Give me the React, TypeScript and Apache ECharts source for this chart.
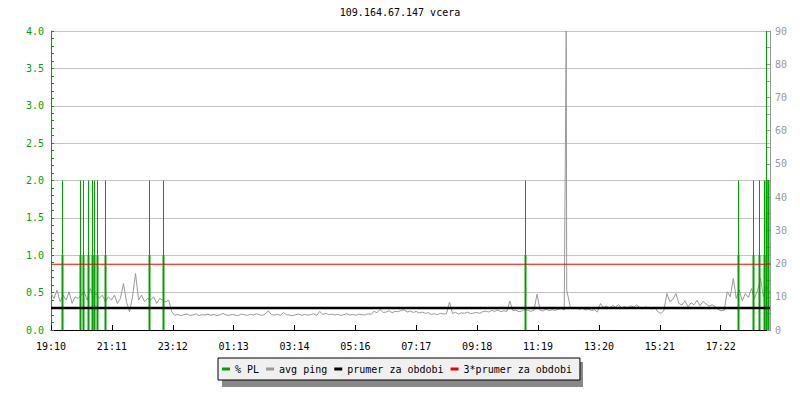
import React, { useEffect, useRef } from 'react';
import * as echarts from 'echarts';

const chartTitle = '109.164.67.147 vcera';
const xTickLabels = ['19:10', '21:11', '23:12', '01:13', '03:14', '05:16', '07:17', '09:18', '11:19', '13:20', '15:21', '17:22'];
const tickStepMin = 121;
const spanMin = 1429;
const sampleStepMin = 6;

// avg ping in ms (right axis), one sample every 6 minutes from 19:10
const pingMs = [
  11.0, 9.5, 12.0, 8.5, 10.5, 9.0, 11.5, 8.0, 10.0, 9.5,
  10.5, 11.5, 9.0, 12.5, 10.0, 11.0, 9.5, 10.5, 8.5, 10.0,
  9.0, 10.5, 8.0, 9.5, 14.0, 8.5, 5.5, 10.0, 17.0, 9.0,
  10.5, 8.5, 9.5, 9.0, 10.0, 8.0, 9.5, 9.0, 8.5, 9.0,
  5.5, 4.4, 4.7, 4.3, 4.6, 4.8, 4.4, 4.5, 4.9, 4.3,
  4.6, 4.5, 4.8, 4.4, 4.7, 4.3, 4.6, 5.0, 4.5, 4.4,
  4.7, 4.5, 4.3, 4.8, 4.6, 4.4, 4.7, 4.5, 4.9, 4.6,
  4.4, 4.8, 5.8, 4.6, 4.5, 4.7, 4.4, 5.3, 4.6, 4.5,
  4.3, 4.6, 4.8, 4.4, 4.7, 4.5, 4.6, 4.9, 4.4, 5.6,
  4.7, 5.0, 4.6, 4.8, 4.5, 4.7, 4.4, 4.6, 4.9, 4.5,
  4.7, 4.4, 4.8, 4.6, 4.5, 4.9, 4.7, 5.6, 5.2, 6.2, 5.3,
  5.4, 5.8, 5.2, 5.6, 5.5, 5.9, 6.1, 5.4, 5.7, 5.3,
  5.6, 5.1, 5.4, 5.0, 5.2, 4.7, 4.9, 4.6, 5.0, 4.8,
  4.9, 8.4, 5.0, 5.3, 4.8, 5.2, 5.0, 5.4, 4.9, 5.1,
  5.3, 5.0, 5.5, 5.7, 5.4, 5.9, 5.6, 6.0, 5.5, 5.8,
  5.6, 8.7, 5.8, 6.0, 5.5, 5.7, 6.2, 5.9, 5.6, 6.0,
  10.8, 6.0, 5.7, 6.3, 5.8, 6.1, 5.9, 6.2, 6.5, 6.0,
  12.0, 7.0, 6.4, 6.8, 6.2, 6.6, 6.0, 6.3, 5.9, 6.1,
  5.4, 8.0, 6.8, 7.2, 6.5, 7.4, 6.9, 7.6, 6.7, 7.1,
  6.6, 7.3, 6.9, 7.5, 6.8, 6.4, 7.0, 6.7, 6.3, 6.9,
  5.5, 5.0, 5.8, 11.0, 8.5, 9.2, 11.0, 8.0, 7.5, 8.8,
  7.0, 8.2, 7.6, 8.9, 7.3, 8.6, 7.8, 7.2, 7.6, 7.0,
  6.2, 5.8, 6.0, 11.5, 10.0, 15.5, 9.5, 12.0, 8.8, 11.0,
  9.8, 12.5, 9.5, 11.8, 15.5, 10.0, 13.5, 11.0,
];

// finer readings around the big latency spike (~12:00)
const spikeMinutes = [1022, 1024, 1025];
const spikeMs = [47, 90, 12];

// packet loss events (left axis, %)
const plMinutes = [21, 58, 63, 74, 81, 86, 92, 108, 195, 222, 942, 1365, 1395, 1407, 1417, 1421, 1426];
const plPeak = [2, 2, 2, 2, 2, 2, 2, 2, 2, 2, 2, 2, 2, 2, 2, 4, 2];
const plBase = [1, 1, 1, 1, 1, 1, 1, 1, 1, 1, 1, 1, 1, 1, 1, 2, 2];

const avgPing = 6.6;
const avgPing3 = 19.8;

const GREEN = '#00a000';
const GREY = '#999999';
const FONT = 'DejaVu Sans Mono';

export default function App() {
  const ref = useRef<HTMLDivElement>(null);

  useEffect(() => {
    if (!ref.current) return;
    const chart = echarts.init(ref.current, undefined, { renderer: 'svg' });

    const pingData = pingMs
      .map((v, i) => [i * sampleStepMin, v])
      .concat(spikeMinutes.map((m, i) => [m, spikeMs[i]]))
      .sort((a, b) => a[0] - b[0]);
    const plData = plMinutes.map((m, i) => [m, plPeak[i], plBase[i]]);

    chart.setOption({
      animation: false,
      backgroundColor: '#ffffff',
      title: {
        text: chartTitle,
        left: 'center',
        top: 2,
        textStyle: { fontFamily: FONT, fontSize: 10, fontWeight: 'normal', color: '#000' },
      },
      legend: {
        left: 218,
        top: 358,
        orient: 'horizontal',
        padding: [6, 8, 6, 4],
        itemGap: 7,
        itemWidth: 8,
        itemHeight: 3,
        selectedMode: false,
        backgroundColor: '#f0f0f0',
        borderColor: '#000',
        borderWidth: 1,
        textStyle: { fontFamily: FONT, fontSize: 10, color: '#000' },
        data: [
          { name: '% PL', icon: 'rect', itemStyle: { color: GREEN } },
          { name: 'avg ping', icon: 'rect', itemStyle: { color: GREY } },
          { name: 'prumer za obdobi', icon: 'rect', itemStyle: { color: '#000' } },
          { name: '3*prumer za obdobi', icon: 'rect', itemStyle: { color: '#ee0000' } },
        ],
      },
      graphic: [
        {
          type: 'rect',
          z: 1,
          shape: { x: 222, y: 362, width: 361, height: 25 },
          style: { fill: '#888888' },
        },
      ],
      grid: { left: 51, right: 30, top: 31, bottom: 70 },
      xAxis: {
        type: 'value',
        min: 0,
        max: spanMin,
        interval: tickStepMin,
        axisLine: { lineStyle: { color: '#000', width: 1 } },
        axisTick: { inside: true, length: 5, lineStyle: { color: '#000' } },
        axisLabel: {
          fontFamily: FONT,
          fontSize: 10,
          color: '#000',
          margin: 11,
          showMaxLabel: false,
          formatter: (v: number) => {
            const k = Math.round(v / tickStepMin);
            return Math.abs(v - k * tickStepMin) < 0.01 && xTickLabels[k] ? xTickLabels[k] : '';
          },
        },
        splitLine: { show: false },
      },
      yAxis: [
        {
          type: 'value',
          position: 'left',
          min: 0,
          max: 4,
          interval: 0.5,
          axisLine: { show: true, lineStyle: { color: GREEN } },
          axisTick: { show: true, inside: true, length: 3, lineStyle: { color: GREEN } },
          minorTick: { show: true, splitNumber: 5, length: 3, lineStyle: { color: GREEN } },
          axisLabel: {
            fontFamily: FONT,
            fontSize: 10,
            color: GREEN,
            margin: 7,
            formatter: (v: number) => v.toFixed(1),
          },
          splitLine: { show: true, lineStyle: { color: '#c4c4c4', width: 1 } },
        },
        {
          type: 'value',
          position: 'right',
          min: 0,
          max: 90,
          interval: 10,
          axisLine: { show: true, lineStyle: { color: GREY } },
          axisTick: { show: true, inside: true, length: 3, lineStyle: { color: GREY } },
          minorTick: { show: true, splitNumber: 2, length: 3, lineStyle: { color: GREY } },
          axisLabel: { fontFamily: FONT, fontSize: 10, color: GREY, margin: 5 },
          splitLine: { show: false },
        },
      ],
      series: [
        {
          name: 'avg ping',
          type: 'line',
          yAxisIndex: 1,
          data: pingData,
          showSymbol: false,
          symbol: 'none',
          itemStyle: { color: GREY },
          lineStyle: { color: GREY, width: 1 },
          z: 2,
        },
        {
          name: '% PL',
          type: 'custom',
          yAxisIndex: 0,
          data: plData,
          itemStyle: { color: GREEN },
          encode: { x: 0, y: [1, 2] },
          z: 3,
          renderItem: (params: any, api: any) => {
            const x = api.value(0);
            const peak = api.value(1);
            const base = api.value(2);
            const p0 = api.coord([x, 0]);
            const p1 = api.coord([x, peak]);
            const p2 = api.coord([x, base]);
            const px = Math.round(p0[0]);
            return {
              type: 'group',
              children: [
                {
                  type: 'rect',
                  shape: { x: px, y: p1[1], width: 1, height: p0[1] - p1[1] },
                  style: { fill: GREEN },
                },
                {
                  type: 'rect',
                  shape: { x: px - 0.5, y: p2[1], width: 2, height: p0[1] - p2[1] },
                  style: { fill: GREEN },
                },
              ],
            };
          },
        },
        {
          name: 'prumer za obdobi',
          type: 'line',
          yAxisIndex: 1,
          data: [[0, avgPing], [spanMin, avgPing]],
          showSymbol: false,
          symbol: 'none',
          itemStyle: { color: '#000' },
          lineStyle: { color: '#000', width: 2.5 },
          z: 4,
        },
        {
          name: '3*prumer za obdobi',
          type: 'line',
          yAxisIndex: 1,
          data: [[0, avgPing3], [spanMin, avgPing3]],
          showSymbol: false,
          symbol: 'none',
          itemStyle: { color: '#ee0000' },
          lineStyle: { color: '#ee0000', width: 1 },
          z: 4,
        },
      ],
    });

    return () => chart.dispose();
  }, []);

  return (
    <div
      ref={ref}
      style={{ position: 'fixed', left: 0, top: 0, width: 800, height: 400, background: '#fff' }}
    />
  );
}
